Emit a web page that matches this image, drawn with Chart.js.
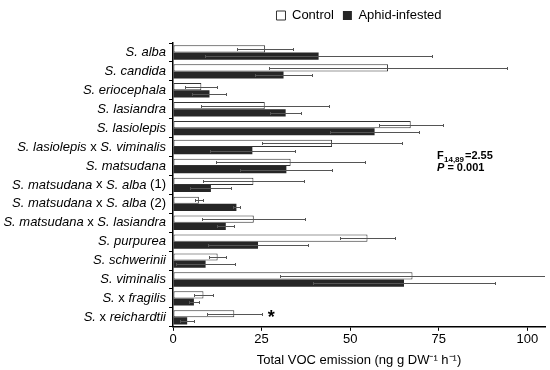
<!DOCTYPE html>
<html>
<head>
<meta charset="utf-8">
<script src="https://cdn.jsdelivr.net/npm/chart.js@4"></script>
<style>
  body { margin: 0; background: #fff; }
  #wrap { width: 550px; height: 370px; }
</style>
</head>
<body>
<div id="wrap"><canvas id="myChart" width="550" height="370"></canvas></div>
<script>
const categories = ['S. alba', 'S. candida', 'S. eriocephala', 'S. lasiandra', 'S. lasiolepis',
    'S. lasiolepis x S. viminalis', 'S. matsudana', 'S. matsudana x S. alba (1)',
    'S. matsudana x S. alba (2)', 'S. matsudana x S. lasiandra', 'S. purpurea',
    'S. schwerinii', 'S. viminalis', 'S. x fragilis', 'S. x reichardtii'];
const controlMeans = [26.0, 60.7, 8.0, 25.9, 67.1, 44.9, 33.2, 22.7, 7.3, 22.8, 54.9, 12.6, 67.6, 8.6, 17.3];
const controlErr = [8.0, 33.5, 4.5, 18.0, 9.0, 19.7, 21.0, 14.3, 1.2, 14.5, 7.8, 2.3, 37.3, 2.7, 7.8];
const aphidMeans = [41.1, 31.2, 10.3, 31.8, 56.9, 22.4, 32.0, 10.7, 17.9, 14.9, 24.0, 9.2, 65.2, 5.9, 4.0];
const aphidErr = [32.0, 8.0, 4.8, 4.3, 12.6, 12.0, 13.0, 5.8, 1.0, 2.4, 14.0, 8.3, 25.8, 1.5, 1.9];
const xTicks = [0, 25, 50, 75, 100];
const markedCategory = 'S. x reichardtii';   // significant difference (*)

const FONT = '"Liberation Sans", Arial, Helvetica, sans-serif';

// extra room between the legend and the plot
const legendGap = {
    id: 'legendGap',
    beforeInit(chart) {
        const fit = chart.legend.fit;
        chart.legend.fit = function() {
            fit.bind(chart.legend)();
            this.height += 11;
        };
    }
};

// draws mean +/- error as a whisker with caps, using the chart's own scales
const errorBars = {
    id: 'errorBars',
    afterDatasetsDraw(chart) {
        const ctx = chart.ctx;
        const x = chart.scales.x;
        const area = chart.chartArea;
        const errs = [controlErr, aphidErr];
        ctx.save();
        ctx.beginPath();
        ctx.rect(area.left, area.top - 2, area.right - area.left, area.bottom - area.top + 4);
        ctx.clip();
        ctx.strokeStyle = '#555';
        ctx.lineWidth = 1;
        chart.data.datasets.forEach(function(ds, d) {
            chart.getDatasetMeta(d).data.forEach(function(bar, i) {
                const v = ds.data[i];
                const x1 = Math.round(x.getPixelForValue(v - errs[d][i])) + 0.5;
                const x2 = Math.round(x.getPixelForValue(v + errs[d][i])) + 0.5;
                const y = Math.round(bar.y) + 0.5;
                ctx.beginPath();
                ctx.moveTo(x1, y); ctx.lineTo(x2, y);
                ctx.moveTo(x1, y - 1.5); ctx.lineTo(x1, y + 1.5);
                ctx.moveTo(x2, y - 1.5); ctx.lineTo(x2, y + 1.5);
                ctx.stroke();
            });
        });
        ctx.restore();
    }
};

// category labels: species names in italics, " x " and "(n)" upright
const speciesLabels = {
    id: 'speciesLabels',
    afterDraw(chart) {
        const ctx = chart.ctx;
        const y = chart.scales.y;
        const right = y.right - 7;
        ctx.save();
        ctx.fillStyle = '#000';
        ctx.textBaseline = 'middle';
        categories.forEach(function(label, i) {
            const segs = [];
            let rest = label;
            let tail = '';
            const m = rest.match(/ (\(\d\))$/);
            if (m) { tail = ' ' + m[1]; rest = rest.slice(0, -m[0].length); }
            rest.split(' x ').forEach(function(part, k) {
                if (k > 0) segs.push({ t: ' x ', it: false });
                segs.push({ t: part, it: true });
            });
            if (tail) segs.push({ t: tail, it: false });
            let w = 0;
            segs.forEach(function(s) {
                ctx.font = (s.it ? 'italic ' : '') + '13px ' + FONT;
                s.w = ctx.measureText(s.t).width;
                w += s.w;
            });
            let px = right - w;
            const py = y.getPixelForValue(i);
            segs.forEach(function(s) {
                ctx.font = (s.it ? 'italic ' : '') + '13px ' + FONT;
                ctx.textAlign = 'left';
                ctx.fillText(s.t, px, py);
                px += s.w;
            });
        });

        // statistics note
        ctx.textAlign = 'left';
        ctx.textBaseline = 'alphabetic';
        ctx.font = 'bold 11px ' + FONT;
        ctx.fillText('F', 437, 159);
        ctx.font = 'bold 8px ' + FONT;
        ctx.fillText('14,89', 444, 162);
        ctx.font = 'bold 11px ' + FONT;
        ctx.fillText('=2.55', 465, 159);
        ctx.font = 'italic bold 11px ' + FONT;
        ctx.fillText('P', 437, 171);
        const pw = ctx.measureText('P').width;
        ctx.font = 'bold 11px ' + FONT;
        ctx.fillText(' = 0.001', 437 + pw, 171);

        // asterisk next to the marked category
        const idx = categories.indexOf(markedCategory);
        const ya = y.getPixelForValue(idx);
        const xa = chart.scales.x.getPixelForValue(27.7);
        ctx.font = 'bold 18px ' + FONT;
        ctx.textAlign = 'center';
        ctx.fillText('*', xa, ya + 6);
        ctx.restore();
    }
};

function renderChart() {
    const ctx = document.getElementById('myChart').getContext('2d');
    const myChart = new Chart(ctx, {
        type: 'bar',
        data: {
            labels: categories,
            datasets: [{
                label: 'Control',
                data: controlMeans,
                backgroundColor: '#ffffff',
                borderColor: '#333333',
                borderWidth: 1,
                borderSkipped: false
            }, {
                label: 'Aphid-infested',
                data: aphidMeans,
                backgroundColor: '#262626',
                borderColor: '#262626',
                borderWidth: 0
            }]
        },
        options: {
            indexAxis: 'y',
            responsive: false,
            animation: false,
            layout: { padding: { top: 0, right: 5, left: 0, bottom: 2 } },
            datasets: { bar: { categoryPercentage: 0.76, barPercentage: 1.0 } },
            plugins: {
                tooltip: { enabled: false },
                legend: {
                    position: 'top',
                    fullSize: false,
                    labels: {
                        boxWidth: 9,
                        boxHeight: 9,
                        padding: 9,
                        color: '#000',
                        font: { family: FONT, size: 13 }
                    }
                }
            },
            scales: {
                x: {
                    min: 0,
                    max: 105,
                    afterBuildTicks: function(scale) {
                        scale.ticks = xTicks.map(v => ({ value: v }));
                    },
                    ticks: { color: '#000', font: { family: FONT, size: 13 }, padding: 1, maxRotation: 0 },
                    grid: { display: true, drawOnChartArea: false, tickLength: 4, color: '#000' },
                    border: { color: '#000', width: 1.5 },
                    title: {
                        display: true,
                        text: 'Total VOC emission (ng g DW\u207B\u00B9 h\u207B\u00B9)',
                        color: '#000',
                        font: { family: FONT, size: 13 },
                        padding: { top: 4, bottom: 0 }
                    }
                },
                y: {
                    afterFit: function(scale) { scale.width = 173; },
                    ticks: { color: 'rgba(0,0,0,0)', font: { family: FONT, size: 13 } },
                    grid: { display: true, drawOnChartArea: false, tickLength: 4, color: '#000' },
                    border: { color: '#000', width: 1.5 }
                }
            }
        },
        plugins: [legendGap, errorBars, speciesLabels]
    });
}

document.addEventListener('DOMContentLoaded', function() {
    renderChart();
});
</script>
</body>
</html>
